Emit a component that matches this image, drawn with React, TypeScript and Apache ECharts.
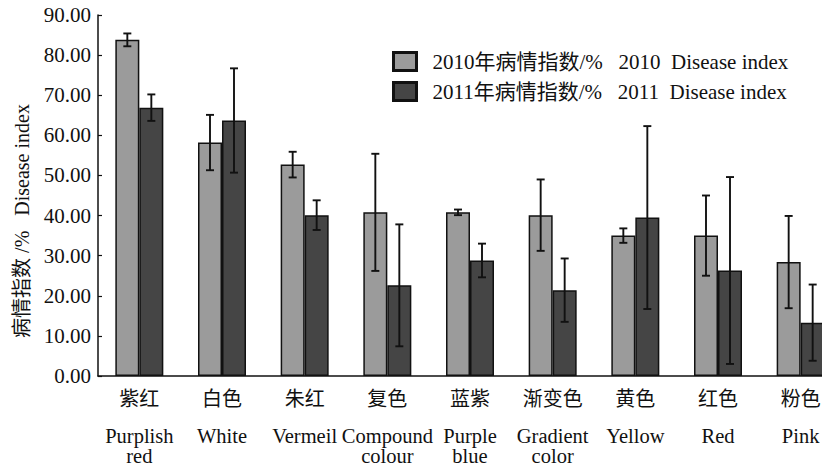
import React, { useEffect, useRef } from "react";
import * as echarts from "echarts";

const cnNames = ["紫红", "白色", "朱红", "复色", "蓝紫", "渐变色", "黄色", "红色", "粉色"];
const enNames = ["Purplish\nred", "White", "Vermeil", "Compound\ncolour", "Purple\nblue", "Gradient\ncolor", "Yellow", "Red", "Pink"];
const values2010 = [83.8, 58.2, 52.7, 40.8, 40.8, 40.1, 35.0, 35.0, 28.4];
const errors2010 = [1.6, 6.9, 3.2, 14.6, 0.7, 8.9, 1.8, 10.0, 11.5];
const values2011 = [66.9, 63.7, 40.1, 22.6, 28.8, 21.4, 39.5, 26.3, 13.3];
const errors2011 = [3.3, 13.0, 3.7, 15.2, 4.2, 7.9, 22.8, 23.3, 9.5];
const seriesNames = [
  "2010年病情指数/%   2010  Disease index",
  "2011年病情指数/%   2011  Disease index",
];
const yAxisName = "病情指数 /%   Disease index";
const yTicks = { min: 0, max: 90, interval: 10 };

const FONT = "'Liberation Serif', 'Noto Sans CJK SC', serif";
const BAR_W = 24;

export default function App() {
  const ref = useRef<HTMLDivElement>(null);
  useEffect(() => {
    if (!ref.current) return;
    const chart = echarts.init(ref.current, undefined, { renderer: "svg" });

    const errData = (vals: number[], errs: number[]) =>
      vals.map((v, i) => [i, v - errs[i], v + errs[i]]);

    const makeErr = (vals: number[], errs: number[], offset: number) => ({
      type: "custom",
      xAxisIndex: 0,
      yAxisIndex: 0,
      z: 10,
      silent: true,
      data: errData(vals, errs),
      renderItem: (params: any, api: any) => {
        const idx = api.value(0);
        const lo = api.coord([idx, api.value(1)]);
        const hi = api.coord([idx, api.value(2)]);
        const x = lo[0] + offset;
        const cap = 4;
        const st = { stroke: "#111", lineWidth: 1.9 };
        return {
          type: "group",
          children: [
            { type: "line", shape: { x1: x, y1: lo[1], x2: x, y2: hi[1] }, style: st },
            { type: "line", shape: { x1: x - cap, y1: lo[1], x2: x + cap, y2: lo[1] }, style: st },
            { type: "line", shape: { x1: x - cap, y1: hi[1], x2: x + cap, y2: hi[1] }, style: st },
          ],
        };
      },
    });

    const option: any = {
      animation: false,
      backgroundColor: "#fff",
      textStyle: { fontFamily: FONT, color: "#111" },
      grid: { left: 98, top: 15, bottom: 93, right: -20, outerBoundsMode: "none", containLabel: false },
      legend: {
        orient: "vertical",
        left: 387,
        top: 46,
        itemWidth: 23,
        itemHeight: 18,
        itemGap: 9,
        icon: "rect",
        data: seriesNames,
        itemStyle: { borderWidth: 3, borderColor: "#111" },
        textStyle: { fontFamily: FONT, fontSize: 21, color: "#111", padding: [0, 0, 0, 11] },
      },
      xAxis: {
        type: "category",
        data: cnNames,
        axisLine: { lineStyle: { color: "#111", width: 1.5 } },
        axisTick: { show: false },
        axisLabel: {
          interval: 0,
          margin: 8,
          color: "#111",
          fontFamily: FONT,
          fontSize: 20,
          formatter: (val: string, i: number) => {
            const parts = enNames[i].split("\n");
            let s = `{cn|${val}}\n{en1|${parts[0]}}`;
            for (let k = 1; k < parts.length; k++) s += `\n{en|${parts[k]}}`;
            return s;
          },
          rich: {
            cn: { fontFamily: FONT, fontSize: 20, lineHeight: 30, color: "#111" },
            en1: { fontFamily: FONT, fontSize: 20.5, lineHeight: 32, padding: [12, 0, 0, 0], color: "#111" },
            en: { fontFamily: FONT, fontSize: 20.5, lineHeight: 20, color: "#111" },
          },
        },
      },
      yAxis: {
        type: "value",
        min: yTicks.min,
        max: yTicks.max,
        interval: yTicks.interval,
        splitLine: { show: false },
        axisLine: { show: true, lineStyle: { color: "#111", width: 1.5 } },
        axisTick: { show: true, inside: true, length: 4, lineStyle: { color: "#111", width: 1.2 } },
        axisLabel: {
          color: "#111",
          fontFamily: FONT,
          fontSize: 21,
          margin: 7,
          formatter: (v: number) => v.toFixed(2),
        },
      },
      graphic: [
        {
          type: "text",
          x: 22,
          y: 221,
          rotation: Math.PI / 2,
          style: {
            text: yAxisName,
            fontFamily: FONT,
            fontSize: 20,
            fill: "#111",
            align: "center",
            verticalAlign: "middle",
          },
        },
      ],
      series: [
        {
          name: seriesNames[0],
          type: "bar",
          data: values2010,
          barWidth: BAR_W,
          barGap: "0%",
          itemStyle: { color: "#9b9b9b", borderColor: "#111", borderWidth: 1.5 },
        },
        {
          name: seriesNames[1],
          type: "bar",
          data: values2011,
          barWidth: BAR_W,
          barGap: "0%",
          itemStyle: { color: "#454545", borderColor: "#111", borderWidth: 1.5 },
        },
        makeErr(values2010, errors2010, -BAR_W / 2),
        makeErr(values2011, errors2011, BAR_W / 2),
      ],
    };
    chart.setOption(option);
    return () => chart.dispose();
  }, []);
  return (
    <div
      ref={ref}
      style={{ position: "fixed", left: 0, top: 0, width: 822, height: 469, background: "#fff" }}
    />
  );
}
